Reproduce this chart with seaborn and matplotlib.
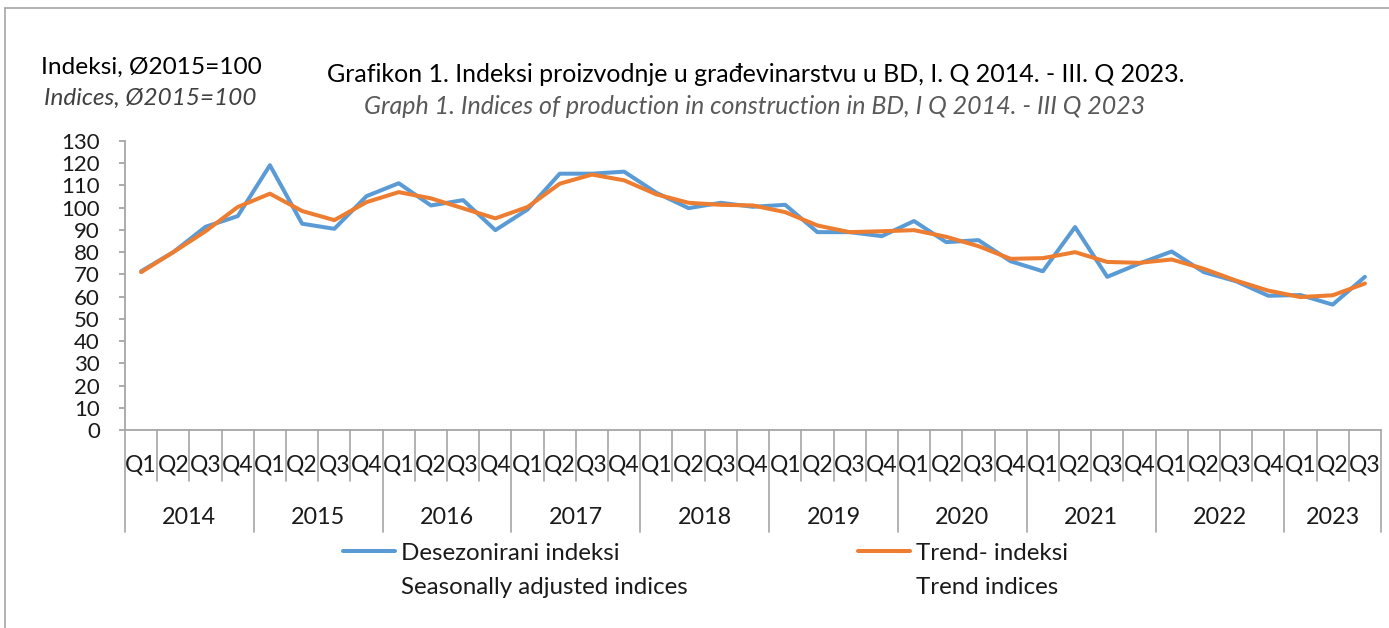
import pandas as pd
import seaborn as sns
import matplotlib.pyplot as plt
from matplotlib.lines import Line2D

# values
years = [2014, 2015, 2016, 2017, 2018, 2019, 2020, 2021, 2022, 2023]
quarter_names = ['Q1', 'Q2', 'Q3', 'Q4']
seasonal = [71.4, 80.0, 91.4, 96.2, 119.1, 92.8, 90.5, 105.2, 111.0, 101.0,
            103.4, 89.9, 99.2, 115.3, 115.3, 116.2, 106.7, 99.8, 102.2, 100.4,
            101.3, 89.0, 89.0, 87.2, 94.0, 84.5, 85.4, 75.9, 71.4, 91.3,
            68.9, 74.9, 80.3, 71.0, 66.9, 60.4, 60.7, 56.4, 68.9]
trend = [71.0, 80.0, 89.4, 100.3, 106.3, 98.5, 94.4, 102.5, 107.0, 104.2,
         99.7, 95.2, 100.3, 110.8, 114.9, 112.3, 106.0, 102.2, 101.3, 101.0,
         98.0, 92.0, 89.0, 89.4, 89.9, 86.9, 82.7, 77.0, 77.3, 80.0,
         75.6, 75.2, 76.7, 72.5, 67.2, 62.7, 59.8, 60.6, 65.9]
series_names = ['Desezonirani indeksi', 'Trend- indeksi']
series_en = ['Seasonally adjusted indices', 'Trend indices']
colors = ['#5B9BD5', '#ED7D31']

n = len(seasonal)
q_labels = [quarter_names[i % 4] for i in range(n)]
df = pd.DataFrame({
    'idx': list(range(n)) * 2,
    'value': seasonal + trend,
    'series': [series_names[0]] * n + [series_names[1]] * n,
})

sns.set_style('white')
plt.rcParams['font.family'] = ['Lato', 'DejaVu Sans']

W, H = 1389, 628
fig = plt.figure(figsize=(W / 100, H / 100), dpi=100)
ax = fig.add_axes([125 / W, 1 - 430 / H, 1256 / W, 289 / H])

sns.lineplot(data=df, x='idx', y='value', hue='series', hue_order=series_names,
             palette=colors, linewidth=2.9, ax=ax)
handles, labels = ax.get_legend_handles_labels()
ax.get_legend().remove()

ax.set_xlim(-0.5, n - 0.5)
ax.set_ylim(0, 130)
ax.set_yticks(range(0, 131, 10))
ax.set_xticks([])
ax.set_xlabel('')
ax.set_ylabel('')
for s in ['top', 'right']:
    ax.spines[s].set_visible(False)
for s in ['left', 'bottom']:
    ax.spines[s].set_color('#a6a6a6')
    ax.spines[s].set_linewidth(1.3)
ax.tick_params(axis='y', left=True, length=4, width=1.3, color='#a6a6a6',
               pad=14, labelsize=16, labelcolor='#1a1a1a')

# category axis: quarters and years with separators
xt = ax.get_xaxis_transform()
for i, q in enumerate(q_labels):
    ax.text(i, -35 / 289, q, transform=xt, ha='center', va='center',
            fontsize=16.5, color='#1a1a1a')
for i in range(n + 1):
    depth = 102 if i % 4 == 0 or i == n else 51
    ax.plot([i - 0.5, i - 0.5], [0, -depth / 289], transform=xt, color='#a6a6a6',
            lw=1.2, clip_on=False)
for k, y in enumerate(years):
    start = k * 4
    end = min(start + 4, n)
    ax.text((start + end - 1) / 2, -87 / 289, str(y), transform=xt, ha='center',
            va='center', fontsize=16.8, color='#1a1a1a')

# legend: two small legends, English line written underneath
for h, lab, en, x0, c in zip(handles, labels, series_en, [343, 858], colors):
    fig.legend([Line2D([], [], color=c, lw=2.9)], [lab], loc='center left',
               bbox_to_anchor=(x0 / W, 1 - 553 / H), frameon=False, borderpad=0,
               borderaxespad=0, handlelength=2.14, handletextpad=0.25, fontsize=17.4,
               labelcolor='#1a1a1a')
    fig.text((x0 + 58) / W, 1 - 587 / H, en, ha='left', va='center', fontsize=17.4,
             color='#1a1a1a')

# titles
fig.text(151 / W, 1 - 67 / H, 'Indeksi, \u00d82015=100', ha='center', va='center',
         fontsize=17.6, color='black')
fig.text(150 / W, 1 - 98 / H, 'Indices, \u00d82015=100', ha='center', va='center',
         fontsize=17.5, style='italic', color='#404040')
fig.text(756 / W, 1 - 75 / H,
         'Grafikon 1. Indeksi proizvodnje u gra\u0111evinarstvu u BD, I. Q 2014. - III. Q 2023.',
         ha='center', va='center', fontsize=18, color='black')
fig.text(755 / W, 1 - 107 / H,
         'Graph 1. Indices of production in construction in BD, I Q 2014. - III Q 2023',
         ha='center', va='center', fontsize=18, style='italic', color='#595959')

# chart frame (top and left edges visible in the crop)
fig.add_artist(Line2D([5 / W, 5 / W], [0, 1 - 8 / H], color='#a6a6a6', lw=1.2))
fig.add_artist(Line2D([5 / W, 1], [1 - 8 / H, 1 - 8 / H], color='#a6a6a6', lw=1.2))

fig.savefig('out.png', dpi=100, facecolor='white')
